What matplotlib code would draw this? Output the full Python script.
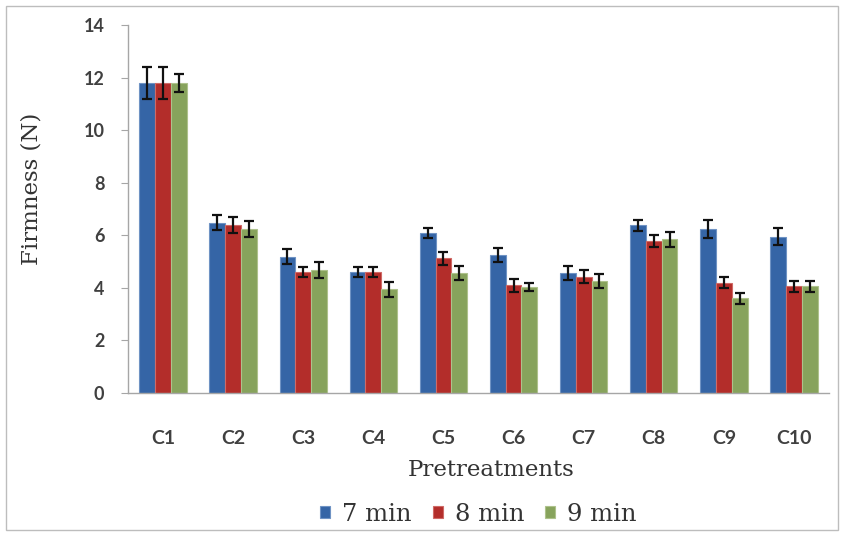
import numpy as np
import matplotlib.pyplot as plt
from matplotlib.patches import Rectangle

categories = ["C1", "C2", "C3", "C4", "C5", "C6", "C7", "C8", "C9", "C10"]
series_names = ["7 min", "8 min", "9 min"]

firm_7 = [11.8, 6.48, 5.19, 4.6, 6.08, 5.26, 4.56, 6.38, 6.23, 5.95]
firm_8 = [11.8, 6.40, 4.60, 4.6, 5.12, 4.10, 4.42, 5.78, 4.20, 4.06]
firm_9 = [11.8, 6.24, 4.67, 3.95, 4.56, 4.03, 4.26, 5.85, 3.60, 4.06]

err_7 = [0.60, 0.28, 0.30, 0.20, 0.20, 0.27, 0.27, 0.20, 0.35, 0.32]
err_8 = [0.60, 0.30, 0.20, 0.20, 0.25, 0.24, 0.25, 0.22, 0.22, 0.20]
err_9 = [0.35, 0.30, 0.30, 0.28, 0.27, 0.15, 0.27, 0.28, 0.20, 0.20]

y_ticks = [0, 2, 4, 6, 8, 10, 12, 14]

colors = ["#3565a6", "#b32d2a", "#87a35c"]
edge_colors = ["#6f93c4", "#cf6a66", "#aec28c"]

fig = plt.figure(figsize=(8.44, 5.36), dpi=100)
ax = fig.add_axes([128 / 844, 1 - 393 / 536, 701 / 844, 368 / 536])

# outer chart frame
fig.patches.append(Rectangle((6 / 844, 6 / 536), 832 / 844, 524 / 536,
                             transform=fig.transFigure, fill=False,
                             edgecolor="#bdbdbd", linewidth=1.0))

x = np.arange(len(categories))
width = 0.225
values = [firm_7, firm_8, firm_9]
errors = [err_7, err_8, err_9]
for i, (vals, errs) in enumerate(zip(values, errors)):
    ax.bar(x + (i - 1) * width, vals, width, color=colors[i],
           edgecolor=edge_colors[i], linewidth=0.8, label=series_names[i],
           yerr=errs, capsize=3.5,
           error_kw=dict(ecolor="#111111", elinewidth=1.6, capthick=1.6),
           zorder=2)

ax.set_xlim(-0.5, len(categories) - 0.5)
ax.set_ylim(0, 14)
ax.set_yticks(y_ticks)
ax.set_xticks(x)
ax.set_xticklabels(categories)

for side in ["top", "right"]:
    ax.spines[side].set_visible(False)
for side in ["left", "bottom"]:
    ax.spines[side].set_color("#a6a6a6")
    ax.spines[side].set_linewidth(1.0)

ax.tick_params(axis="y", direction="out", length=5, color="#a6a6a6",
               pad=12, labelsize=13, labelcolor="#404040")
ax.tick_params(axis="x", length=0, pad=27, labelsize=14, labelcolor="#404040")
for lab in ax.get_yticklabels() + ax.get_xticklabels():
    lab.set_fontfamily("Lato")
    lab.set_fontweight("bold")

ax.set_ylabel("Firmness (N)", family="DejaVu Serif", fontsize=16.5,
              color="#333333")
ax.yaxis.label.set_va("center")
ax.yaxis.set_label_coords(-0.137, 0.556)

ax.set_xlabel("Pretreatments", family="DejaVu Serif", fontsize=16.5,
              color="#333333")
ax.xaxis.label.set_va("top")
ax.xaxis.set_label_coords(0.518, -0.178)

leg = ax.legend(loc="center", bbox_to_anchor=(0.50, -0.329), ncol=3,
                frameon=False, handlelength=0.42, handleheight=0.42,
                handletextpad=0.5, columnspacing=0.85,
                prop=dict(family="DejaVu Serif", size=17.5))
for t in leg.get_texts():
    t.set_color("#333333")

fig.savefig("out.png", dpi=100)
